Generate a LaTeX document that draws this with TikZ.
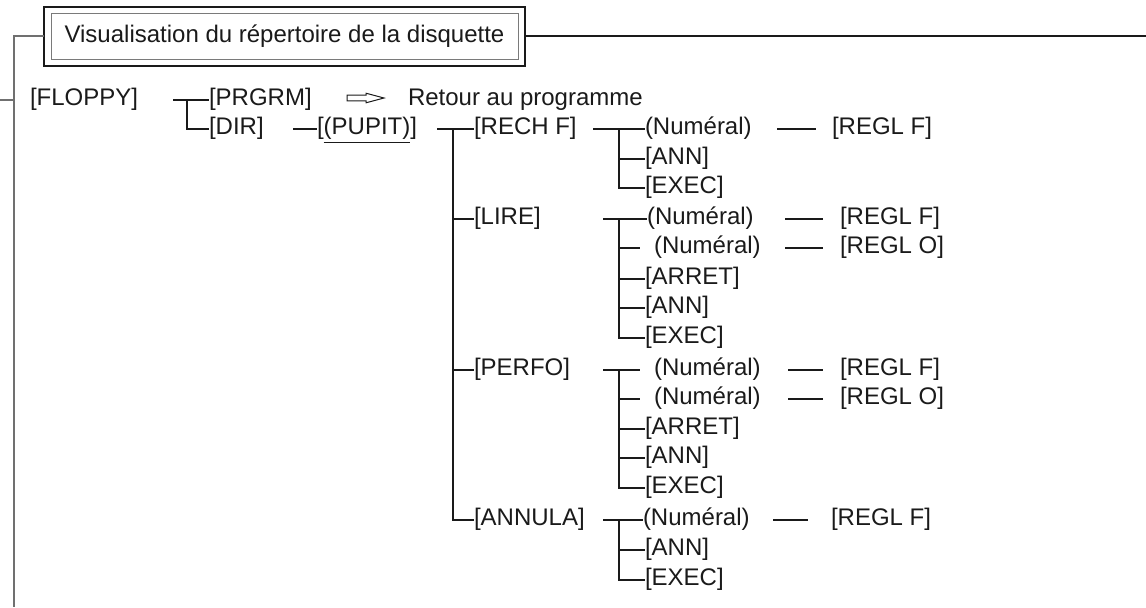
\documentclass[tikz,border=0pt]{standalone}
\usepackage{fontspec}
\setmainfont{Liberation Sans}
\definecolor{ink}{HTML}{1A1A1A}
\definecolor{framegray}{HTML}{707070}
\definecolor{boxgray}{HTML}{7A7A7A}
\begin{document}
\begin{tikzpicture}[x=0.5pt,y=-0.5pt,
  lbl/.style={anchor=west,inner sep=0pt,outer sep=0pt,text height=0.72em,text depth=0.2em,
              font=\fontsize{12}{14}\selectfont,text=ink},
  link/.style={draw=ink,line width=0.6pt},
  frame/.style={draw=framegray,line width=0.9pt},
  titlebox/.style={draw=boxgray,line width=0.5pt,inner sep=0pt,minimum width=233.5pt,
              minimum height=23pt,font=\fontsize{12}{14}\selectfont,text=ink},
  hollow/.style={draw=ink,line width=0.5pt,fill=white,line join=miter},
]
\useasboundingbox (0,0) rectangle (1146,607);

% title with its double frame
\node[titlebox] (title) at (284.5,36) {Visualisation du répertoire de la disquette};
\draw[draw=ink,line width=0.75pt] (44,7) rectangle (525,66);
\coordinate (tl) at (44,36);
\coordinate (tr) at (525,36);
\coordinate (edge) at (1146,36);
\coordinate (ftop) at (14,36);
\coordinate (fbot) at (14,607);
\coordinate (fin) at (0,100);
\coordinate (fmid) at (14,100);
\draw[link] (tr) -- (edge);
\draw[frame] (tl) -- (ftop) -- (fbot);
\draw[frame] (fin) -- (fmid);

% first level
\node[lbl] (floppy) at (30,100) {[FLOPPY]};
\node[lbl] (prgrm) at (209,100) {[PRGRM]};
\node[lbl] (retour) at (408,100) {Retour au programme};
\node[lbl] (dir) at (209,129) {[DIR]};
\node[lbl] (pupit) at (317,129) {[\underline{(PUPIT)}]};
\coordinate (f0) at (173,100);
\coordinate (fj) at (187,100);
\draw[link] (f0) -- (prgrm.west);
\draw[link] (fj) |- (dir.west);
\coordinate (d0) at (293,129);
\draw[link] (d0) -- (pupit.west);

% hollow arrow towards "Retour au programme"
\coordinate (arr) at (347,98);
\draw[hollow] (arr) ++(0,-2.8) -- ++(19,0) -- ++(0,-2) -- ++(18,4.8) -- ++(-18,4.8)
  -- ++(0,-2) -- ++(-19,0) -- cycle;

% second level
\node[lbl] (rech) at (474,129) {[RECH F]};
\node[lbl] (lire) at (474,219) {[LIRE]};
\node[lbl] (perfo) at (474,370) {[PERFO]};
\node[lbl] (annula) at (474,520) {[ANNULA]};
\coordinate (p0) at (437,129);
\coordinate (t1) at (453,129);
\coordinate (t4) at (453,219);
\coordinate (t9) at (453,370);
\draw[link] (p0) -- (rech.west);
\draw[link] (t1) |- (annula.west);
\draw[link] (t4) -- (lire.west);
\draw[link] (t9) -- (perfo.west);

% RECH F branch
\node[lbl] (rn) at (645,129) {(Numéral)};
\node[lbl] (ra) at (645,159) {[ANN]};
\node[lbl] (re) at (645,188) {[EXEC]};
\node[lbl] (rr) at (832,129) {[REGL F]};
\coordinate (r0) at (593,129);
\coordinate (rj) at (619,129);
\coordinate (rs) at (619,159);
\draw[link] (r0) -- (rn.west);
\draw[link] (rj) |- (re.west);
\draw[link] (rs) -- (ra.west);
\coordinate (rl0) at (777,129);
\coordinate (rl1) at (816,129);
\draw[link] (rl0) -- (rl1);

% LIRE branch
\node[lbl] (ln1) at (647,219) {(Numéral)};
\node[lbl] (ln2) at (654,248) {(Numéral)};
\node[lbl] (lar) at (645,279) {[ARRET]};
\node[lbl] (lan) at (645,308) {[ANN]};
\node[lbl] (lex) at (645,338) {[EXEC]};
\node[lbl] (lf) at (840,219) {[REGL F]};
\node[lbl] (lo) at (840,248) {[REGL O]};
\coordinate (l0) at (603,219);
\coordinate (lj) at (619,219);
\coordinate (l2) at (619,248);
\coordinate (l2e) at (640,248);
\coordinate (l3) at (619,279);
\coordinate (l4) at (619,308);
\draw[link] (l0) -- (ln1.west);
\draw[link] (lj) |- (lex.west);
\draw[link] (l2) -- (l2e);
\draw[link] (l3) -- (lar.west);
\draw[link] (l4) -- (lan.west);
\coordinate (lfa) at (785,219);
\coordinate (lfb) at (823,219);
\coordinate (loa) at (785,248);
\coordinate (lob) at (823,248);
\draw[link] (lfa) -- (lfb);
\draw[link] (loa) -- (lob);

% PERFO branch
\node[lbl] (pn1) at (654,370) {(Numéral)};
\node[lbl] (pn2) at (654,399) {(Numéral)};
\node[lbl] (par) at (645,429) {[ARRET]};
\node[lbl] (pan) at (645,458) {[ANN]};
\node[lbl] (pex) at (645,488) {[EXEC]};
\node[lbl] (pf) at (840,370) {[REGL F]};
\node[lbl] (po) at (840,399) {[REGL O]};
\coordinate (q0) at (603,370);
\coordinate (q1e) at (640,370);
\coordinate (qj) at (619,370);
\coordinate (q2) at (619,399);
\coordinate (q2e) at (640,399);
\coordinate (q3) at (619,429);
\coordinate (q4) at (619,458);
\draw[link] (q0) -- (q1e);
\draw[link] (qj) |- (pex.west);
\draw[link] (q2) -- (q2e);
\draw[link] (q3) -- (par.west);
\draw[link] (q4) -- (pan.west);
\coordinate (pfa) at (788,370);
\coordinate (pfb) at (823,370);
\coordinate (poa) at (788,399);
\coordinate (pob) at (823,399);
\draw[link] (pfa) -- (pfb);
\draw[link] (poa) -- (pob);

% ANNULA branch
\node[lbl] (an) at (643,520) {(Numéral)};
\node[lbl] (aa) at (645,550) {[ANN]};
\node[lbl] (ae) at (645,580) {[EXEC]};
\node[lbl] (af) at (831,520) {[REGL F]};
\coordinate (a0) at (603,520);
\coordinate (aj) at (619,520);
\coordinate (as) at (619,550);
\draw[link] (a0) -- (an.west);
\draw[link] (aj) |- (ae.west);
\draw[link] (as) -- (aa.west);
\coordinate (afa) at (773,520);
\coordinate (afb) at (808,520);
\draw[link] (afa) -- (afb);
\end{tikzpicture}
\end{document}
